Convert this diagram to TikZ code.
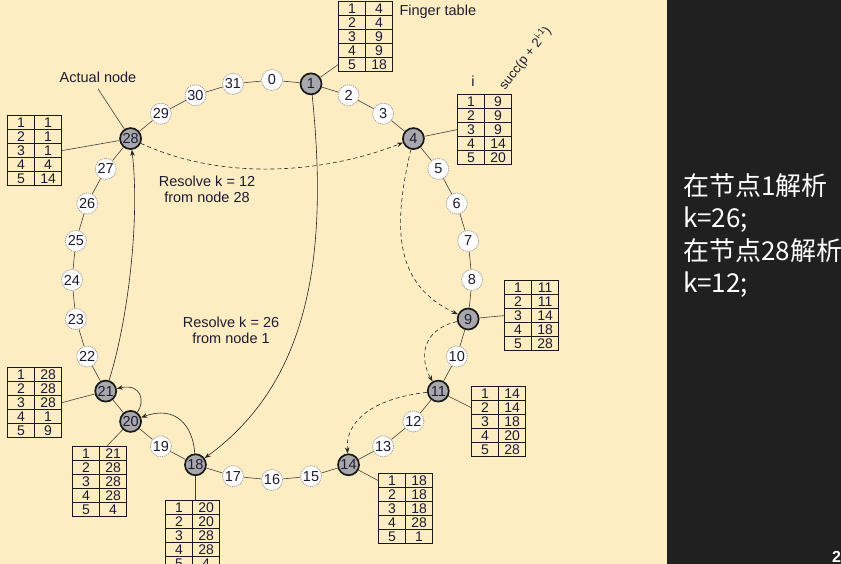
\documentclass[tikz,border=0pt]{standalone}
\usepackage{fontspec}
\setmainfont{Liberation Sans}
\newfontfamily\cjkfont{Noto Sans CJK SC}
\usetikzlibrary{arrows.meta,calc,matrix}
\definecolor{bg}{RGB}{254,236,194}
\definecolor{board}{RGB}{32,32,32}
\definecolor{ink}{RGB}{28,28,50}
\definecolor{nodegray}{RGB}{168,168,172}
\tikzset{
  ringnode/.style={circle, draw=gray!75, dash pattern=on 1.2pt off 0.9pt, line width=0.8pt, fill=white,
    minimum size=21pt, inner sep=0pt, font=\fontsize{14.5}{14.5}\selectfont, text=ink},
  actualnode/.style={circle, draw=black!90, line width=1.7pt, fill=nodegray,
    minimum size=21pt, inner sep=0pt, font=\fontsize{14.5}{14.5}\selectfont, text=ink},
  seg/.style={draw=black!75, line width=0.6pt},
  ftab/.style={matrix of nodes, anchor=north west, inner sep=0pt, column sep=-0.8pt, row sep=-0.8pt,
    nodes={draw=black!90, line width=0.8pt, minimum width=27pt, minimum height=14pt, anchor=center,
      text height=10pt, text depth=0pt,
      inner sep=0pt, font=\fontsize{14}{14}\selectfont, text=ink}},
  look/.style={draw=black!85, line width=0.6pt, -{Stealth[length=6pt,width=4.5pt]}},
  lookdash/.style={look, dash pattern=on 4pt off 3pt},
  lbl/.style={font=\fontsize{14.5}{16}\selectfont, text=ink},
  cjktext/.style={anchor=base west, text=white, font=\cjkfont\fontsize{26}{32}\selectfont, inner sep=0pt}
}
\begin{document}
\begin{tikzpicture}[x=1pt,y=-1pt]
\useasboundingbox (0,0) rectangle (841,564);
\clip (0,0) rectangle (841,564);
\fill[bg] (0,0) rectangle (667,564);
\fill[board] (667,0) rectangle (841,564);

% ring nodes
\foreach \k in {0,2,3,5,6,7,8,10,12,13,15,16,17,19,22,23,24,25,26,27,29,30,31}{
  \pgfmathsetmacro\ang{90-11.25*\k}
  \node[ringnode] (n\k) at ({272+200*cos(\ang)},{280-200*sin(\ang)}) {\k};
}
\foreach \k in {1,4,9,11,14,18,20,21,28}{
  \pgfmathsetmacro\ang{90-11.25*\k}
  \node[actualnode] (n\k) at ({272+200*cos(\ang)},{280-200*sin(\ang)}) {\k};
}
\foreach \k [evaluate=\k as \nx using {int(mod(\k+1,32))}] in {0,...,31}{
  \draw[seg] (n\k) -- (n\nx);
}

% finger tables
\matrix (t1) [ftab] at (338,1) {1 & 4\\ 2 & 4\\ 3 & 9\\ 4 & 9\\ 5 & 18\\};
\matrix (t4) [ftab] at (457,94) {1 & 9\\ 2 & 9\\ 3 & 9\\ 4 & 14\\ 5 & 20\\};
\matrix (t9) [ftab] at (504,280) {1 & 11\\ 2 & 11\\ 3 & 14\\ 4 & 18\\ 5 & 28\\};
\matrix (t11) [ftab] at (471,386) {1 & 14\\ 2 & 14\\ 3 & 18\\ 4 & 20\\ 5 & 28\\};
\matrix (t14) [ftab] at (378,473) {1 & 18\\ 2 & 18\\ 3 & 18\\ 4 & 28\\ 5 & 1\\};
\matrix (t18) [ftab] at (165,500) {1 & 20\\ 2 & 20\\ 3 & 28\\ 4 & 28\\ 5 & 4\\};
\matrix (t20) [ftab] at (72,446) {1 & 21\\ 2 & 28\\ 3 & 28\\ 4 & 28\\ 5 & 4\\};
\matrix (t21) [ftab] at (7,367) {1 & 28\\ 2 & 28\\ 3 & 28\\ 4 & 1\\ 5 & 9\\};
\matrix (t28) [ftab] at (7,115) {1 & 1\\ 2 & 1\\ 3 & 1\\ 4 & 4\\ 5 & 14\\};

\draw[seg] (n1) -- (t1-5-1.west);
\draw[seg] (n4) -- (t4-3-1.west);
\draw[seg] (n9) -- (t9-3-1.west);
\draw[seg] (n11) -- (t11-2-1.west);
\draw[seg] (n14) -- (t14-1-1.west);
\draw[seg] (n18) -- (n18 |- t18.north);
\draw[seg] (n20) -- ($(t20.north west)+(35,0)$);
\draw[seg] (n21) -- (t21-3-2.east);
\draw[seg] (n28) -- (t28-3-2.east);

% labels
\node[lbl, anchor=west] (ft) at (396,12) {Finger table};
\node[lbl] (act) at (98,77) {Actual node};
\draw[seg] ([yshift=-3pt]act.south) -- (n28);
\node[lbl] (icol) at (473,81) {i};
\node[font=\fontsize{13}{13}\selectfont, text=ink, rotate=52] (succ) at (525,58) {succ(p + 2\textsuperscript{i-1})};

\node[lbl, align=center] (r12) at (207,189) {Resolve k = 12\\from node 28};
\node[lbl, align=center] (r26) at (231,330) {Resolve k = 26\\from node 1};

% lookup arrows
\draw[look] (n1) .. controls (328,250) and (312,380) .. (n18);
\draw[look] (n18) .. controls (193,425) and (175,405) .. (n20);
\draw[look] (n20) .. controls (145,402) and (142,383) .. (n21);
\draw[look] (n21) .. controls (128,320) and (140,220) .. (n28);
\draw[lookdash] (n28) .. controls (220,180) and (320,175) .. (n4);
\draw[lookdash] (n4) .. controls (392,230) and (395,285) .. (n9);
\draw[lookdash] (n9) .. controls (420,330) and (420,360) .. (n11);
\draw[lookdash] (n11) .. controls (375,398) and (345,420) .. (n14);

% right panel
\node[cjktext] (c1) at (683,196) {在节点1解析};
\node[cjktext] (c2) at (683,228) {k=26;};
\node[cjktext] (c3) at (683,261) {在节点28解析};
\node[cjktext] (c4) at (683,293) {k=12;};
\node[anchor=base west, text=white, inner sep=0pt, font=\bfseries\fontsize{16}{16}\selectfont] (pg) at (832,562) {2};
\end{tikzpicture}
\end{document}
